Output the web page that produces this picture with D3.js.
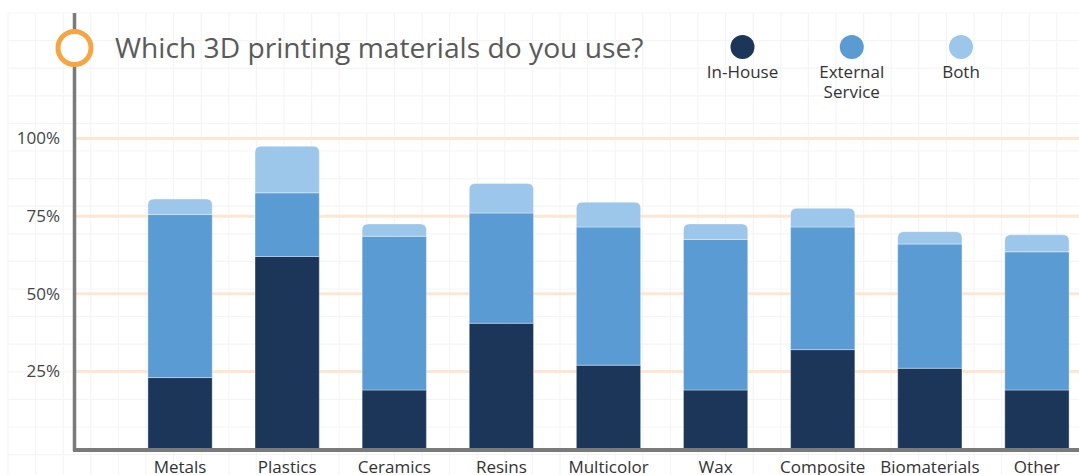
<!DOCTYPE html>
<html>
<head>
<meta charset="utf-8">
<script src="https://cdn.jsdelivr.net/npm/d3@7"></script>
<style>
  body { margin: 0; background: #fff; }
  svg { display: block; font-family: "Open Sans", sans-serif; }
</style>
</head>
<body>
<div id="chart"></div>
<script>
  // chart values (percent of respondents)
  var materials = ["Metals", "Plastics", "Ceramics", "Resins", "Multicolor", "Wax", "Composite", "Biomaterials", "Other"];
  var inHouse = [23, 62, 19, 40.5, 27, 19, 32, 26, 19];
  var external = [52.5, 20.5, 49.5, 35.5, 44.5, 48.5, 39.5, 40, 44.5];
  var both = [5, 15, 4, 9.5, 8, 5, 6, 4, 5.5];
  var yTicks = [25, 50, 75, 100];
  var seriesKeys = ["inHouse", "external", "both"];
  var seriesLabels = [["In-House"], ["External", "Service"], ["Both"]];
  var seriesColors = ["#1c365a", "#5a9bd4", "#9cc7ea"];

  var width = 1079;
  var height = 475;

  var svg = d3.select("#chart")
      .append("svg")
      .attr("width", width)
      .attr("height", height);

  // build the table d3.stack wants
  var rows = materials.map(function (m, i) {
      return { name: m, inHouse: inHouse[i], external: external[i], both: both[i] };
  });

  var x = d3.scaleBand()
      .domain(materials)
      .range([126.5, 1090.5])
      .paddingInner(0.4)
      .paddingOuter(0.2);

  var y = d3.scaleLinear()
      .domain([0, 100])
      .range([449, 138.5]);

  var color = d3.scaleOrdinal()
      .domain(seriesKeys)
      .range(seriesColors);

  // faint graph-paper background
  var paper = svg.append("g").attr("stroke", "#f5f5f5").attr("stroke-width", 1.2);
  paper.selectAll("line.v")
      .data(d3.range(8, width, 27.6))
      .join("line")
      .attr("class", "v")
      .attr("x1", d => d).attr("x2", d => d)
      .attr("y1", 13).attr("y2", height);
  paper.selectAll("line.h")
      .data(d3.range(13, height, 27.6))
      .join("line")
      .attr("class", "h")
      .attr("x1", 8).attr("x2", width)
      .attr("y1", d => d).attr("y2", d => d);

  // orange percentage gridlines
  svg.append("g")
      .selectAll("line")
      .data(yTicks)
      .join("line")
      .attr("x1", 76)
      .attr("x2", width)
      .attr("y1", d => y(d))
      .attr("y2", d => y(d))
      .attr("stroke", "#fde7d2")
      .attr("stroke-width", 3);

  // y axis labels
  var yAxis = svg.append("g")
      .attr("transform", "translate(74,0)")
      .call(d3.axisLeft(y).tickValues(yTicks).tickSize(0).tickPadding(14).tickFormat(d => d + "%"));
  yAxis.select(".domain").remove();
  yAxis.selectAll("text")
      .attr("font-family", "Open Sans, sans-serif")
      .attr("font-size", 17)
      .attr("fill", "#444");

  // stacked bars
  var stackedData = d3.stack().keys(seriesKeys)(rows);

  function barPath(x0, y0, w, h, r) {
      // rect with rounded top corners
      r = Math.min(r, h);
      return "M" + x0 + "," + (y0 + h) +
          "V" + (y0 + r) +
          "Q" + x0 + "," + y0 + " " + (x0 + r) + "," + y0 +
          "H" + (x0 + w - r) +
          "Q" + (x0 + w) + "," + y0 + " " + (x0 + w) + "," + (y0 + r) +
          "V" + (y0 + h) + "Z";
  }

  svg.append("g")
      .selectAll("g")
      .data(stackedData)
      .join("g")
      .attr("fill", d => color(d.key))
      .each(function (layer) {
          var isTop = layer.key === "both";
          d3.select(this).selectAll("path")
              .data(layer)
              .join("path")
              .attr("d", function (d) {
                  var x0 = x(d.data.name);
                  var y0 = y(d[1]);
                  var h = y(d[0]) - y(d[1]);
                  return barPath(x0, y0, x.bandwidth(), h, isTop ? 6 : 0);
              })
              .attr("stroke", "rgba(255,255,255,0.35)")
              .attr("stroke-width", 1);
      });

  // axis lines
  svg.append("line")
      .attr("x1", 74.5).attr("x2", 74.5)
      .attr("y1", 13).attr("y2", 451)
      .attr("stroke", "#7a7a7a")
      .attr("stroke-width", 3.5);

  svg.append("line")
      .attr("x1", 73).attr("x2", width)
      .attr("y1", y(0) + 1).attr("y2", y(0) + 1)
      .attr("stroke", "#7a7a7a")
      .attr("stroke-width", 4);

  // x labels
  var xAxis = svg.append("g")
      .attr("transform", "translate(0," + y(0) + ")")
      .call(d3.axisBottom(x).tickSize(0).tickPadding(12));
  xAxis.select(".domain").remove();
  xAxis.selectAll("text")
      .attr("font-family", "Open Sans, sans-serif")
      .attr("font-size", 17)
      .attr("fill", "#333");

  // title with orange ring
  svg.append("circle")
      .attr("cx", 74.5)
      .attr("cy", 48)
      .attr("r", 16.5)
      .attr("fill", "#fff")
      .attr("stroke", "#f6a545")
      .attr("stroke-width", 5);

  svg.append("text")
      .attr("x", 115)
      .attr("y", 58)
      .attr("font-size", 28.2)
      .attr("fill", "#5a5a5a")
      .text("Which 3D printing materials do you use?");

  // legend
  var legendX = d3.scalePoint().domain(seriesKeys).range([742.5, 961]);
  var legend = svg.append("g")
      .selectAll("g")
      .data(seriesKeys)
      .join("g")
      .attr("transform", d => "translate(" + legendX(d) + ",0)");

  legend.append("circle")
      .attr("cy", 47)
      .attr("r", 12)
      .attr("fill", d => color(d));

  legend.append("text")
      .attr("text-anchor", "middle")
      .attr("font-size", 17)
      .attr("fill", "#333")
      .selectAll("tspan")
      .data((d, i) => seriesLabels[i])
      .join("tspan")
      .attr("x", 0)
      .attr("y", (d, i) => 78 + i * 20)
      .text(d => d);
</script>
</body>
</html>
